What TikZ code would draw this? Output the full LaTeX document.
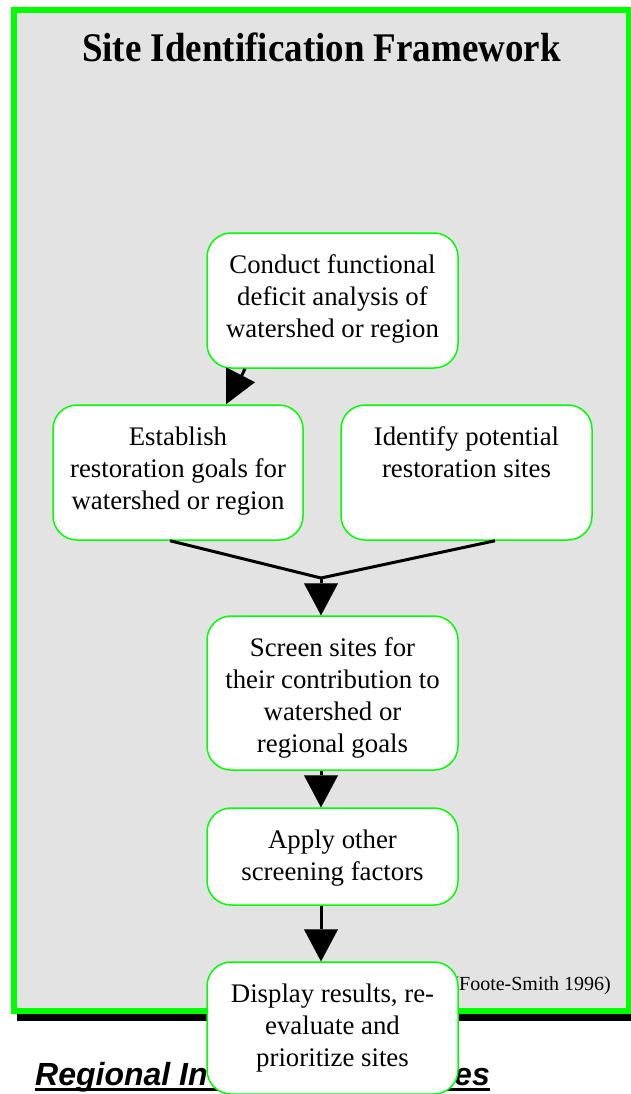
\documentclass[tikz,border=0pt]{standalone}
\usepackage{fontspec}
\setmainfont{Liberation Serif}
\newfontfamily\arialfont{Liberation Sans}
\usetikzlibrary{arrows.meta}
\definecolor{framegreen}{RGB}{0,255,0}
\definecolor{panelgray}{RGB}{227,227,227}
\begin{document}
\begin{tikzpicture}[x=1pt,y=-1pt,
  box/.style={draw=framegreen, line width=1.5pt, fill=white, rounded corners=24pt, inner sep=0pt, minimum width=251pt},
  boxtext/.style={anchor=north, align=center, inner sep=0pt, font=\fontsize{26.8}{32}\selectfont},
  flow/.style={line width=3pt, -{Triangle[length=32pt,width=34pt,line width=0.01pt]}},
  plainline/.style={line width=3pt}]
\useasboundingbox (0,0) rectangle (631,1094);
% frame with shadow
\fill[black] (16.7,16) rectangle (640,1020.7);
\filldraw[fill=panelgray, draw=framegreen, line width=6pt] (13.8,10) rectangle (628.5,1011.2);
\node[font=\fontsize{37}{40}\selectfont\bfseries, inner sep=0pt, anchor=base] (title) at (321.5,62) {\scalebox{1}[1.1]{Site Identification Framework}};
% boxes
\node[box, minimum height=135pt] (A) at (332.5,300.5) {};
\node[boxtext] (At) at ([yshift=-18.6pt]A.north) {\strut Conduct functional\\deficit analysis of\\watershed or region};
\node[box, minimum width=250pt, minimum height=135pt] (B) at (178,472.5) {};
\node[boxtext] (Bt) at ([yshift=-18.6pt]B.north) {\strut Establish\\restoration goals for\\watershed or region};
\node[box, minimum height=135pt] (C) at (466.5,472.5) {};
\node[boxtext] (Ct) at ([yshift=-18.6pt]C.north) {\strut Identify potential\\restoration sites};
\node[box, minimum height=154pt] (D) at (332.5,693) {};
\node[boxtext] (Dt) at ([yshift=-18.6pt]D.north) {\strut Screen sites for\\their contribution to\\watershed or\\regional goals};
\node[box, minimum height=97pt] (E) at (332.5,856.5) {};
\node[boxtext] (Et) at ([yshift=-18.6pt]E.north) {\strut Apply other\\screening factors};
% citation and heading (partly covered by last box)
\node[anchor=base east, inner sep=0pt, font=\fontsize{20}{24}\selectfont] (cite) at (611,990) {(Foote-Smith 1996)};
\node[anchor=base west, inner sep=0pt, font=\fontsize{32}{36}\selectfont\arialfont\bfseries\itshape] (R1) at (35,1085) {Regional In};
\node[anchor=base east, inner sep=0pt, font=\fontsize{32}{36}\selectfont\arialfont\bfseries\itshape] (R2) at (490,1085) {es};
\draw[line width=3pt] ([yshift=-4.5pt]R1.base west) -- ([yshift=-4.5pt]R2.base east);
\node[box, minimum height=132pt] (F) at (332.5,1028) {};
\node[boxtext] (Ft) at ([yshift=-18.6pt]F.north) {\strut Display results, re-\\evaluate and\\prioritize sites};
% connectors
\draw[plainline] ([xshift=-87.5pt]A.south) -- (241,377);
\fill[black] ([xshift=48pt]B.north) -- ([xshift=48pt,yshift=37pt]B.north) -- ([xshift=77pt,yshift=22pt]B.north) -- cycle;
\coordinate (J) at (321,578);
\draw[plainline] ([xshift=-8pt]B.south) -- (J);
\draw[plainline] ([xshift=28.5pt]C.south) -- (J);
\draw[flow] (J) -- ([xshift=-11.5pt]D.north);
\draw[flow] ([xshift=-11.5pt]D.south) -- ([xshift=-11.5pt]E.north);
\draw[flow] ([xshift=-11.5pt]E.south) -- ([xshift=-11.5pt]F.north);
\end{tikzpicture}
\end{document}
